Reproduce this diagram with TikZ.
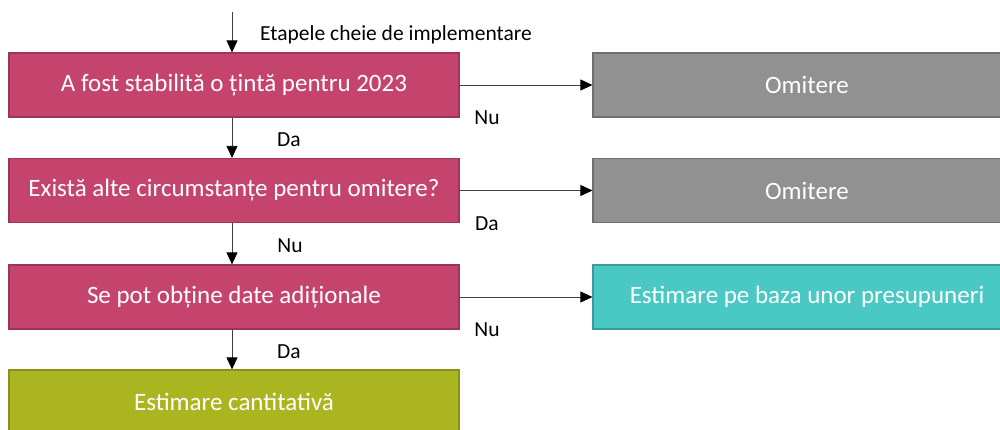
\documentclass[tikz,border=0pt]{standalone}
\usepackage{fontspec}
\setmainfont{Carlito}
\usetikzlibrary{arrows.meta}
\definecolor{mag}{HTML}{C5446D}
\definecolor{magb}{HTML}{9E3556}
\definecolor{gr}{HTML}{919191}
\definecolor{grb}{HTML}{6E6E6E}
\definecolor{tl}{HTML}{49C8C4}
\definecolor{tlb}{HTML}{389C98}
\definecolor{ol}{HTML}{ABB520}
\definecolor{olb}{HTML}{86901A}
\definecolor{ln}{HTML}{404040}
\tikzset{
  box/.style={draw, line width=1.2pt, minimum width=450pt, minimum height=64pt, inner sep=0pt, text=white, font=\fontsize{25}{28}\selectfont},
  rbox/.style={box, minimum width=428pt},
  conn/.style={draw=ln, line width=0.8pt, -{Triangle[length=12pt,width=11pt,fill=black,color=black]}},
  lbl/.style={font=\fontsize{21.5}{24}\selectfont, text=black, inner sep=0pt}
}
\begin{document}
\begin{tikzpicture}[x=1pt,y=-1pt]
\useasboundingbox (0,0) rectangle (1000,430);
\begin{scope}
\clip (0,0) rectangle (1000,430);
\node[box, fill=mag, draw=magb] (b1) at (234,85) {A fost stabilită o țintă pentru 2023};
\node[box, fill=mag, draw=magb] (b2) at (234,190.5) {Există alte circumstanțe pentru omitere?};
\node[box, fill=mag, draw=magb] (b3) at (234,297) {Se pot obține date adiționale};
\node[box, fill=ol, draw=olb] (b4) at (234,402) {Estimare cantitativă};
\node[rbox, fill=gr, draw=grb] (r1) at (807,85) {Omitere};
\node[rbox, fill=gr, draw=grb] (r2) at (807,190.5) {Omitere};
\node[rbox, fill=tl, draw=tlb] (r3) at (807,297) {Estimare pe baza unor presupuneri};
\end{scope}
\coordinate (top) at (232,12);
\draw[conn] (top) -- (top |- b1.north);
\draw[conn] (b1.south -| top) -- (top |- b2.north);
\draw[conn] (b2.south -| top) -- (top |- b3.north);
\draw[conn] (b3.south -| top) -- (top |- b4.north);
\draw[conn] (b1.east) -- (r1.west);
\draw[conn] (b2.east) -- (r2.west);
\draw[conn] (b3.east) -- (r3.west);
\node[lbl, anchor=west] (l0) at (260,35) {Etapele cheie de implementare};
\node[lbl] (l1) at (289,140) {Da};
\node[lbl] (l2) at (290,246) {Nu};
\node[lbl] (l3) at (289,352) {Da};
\node[lbl] (l4) at (487,118) {Nu};
\node[lbl] (l5) at (487,224) {Da};
\node[lbl] (l6) at (487,330) {Nu};
\end{tikzpicture}
\end{document}
